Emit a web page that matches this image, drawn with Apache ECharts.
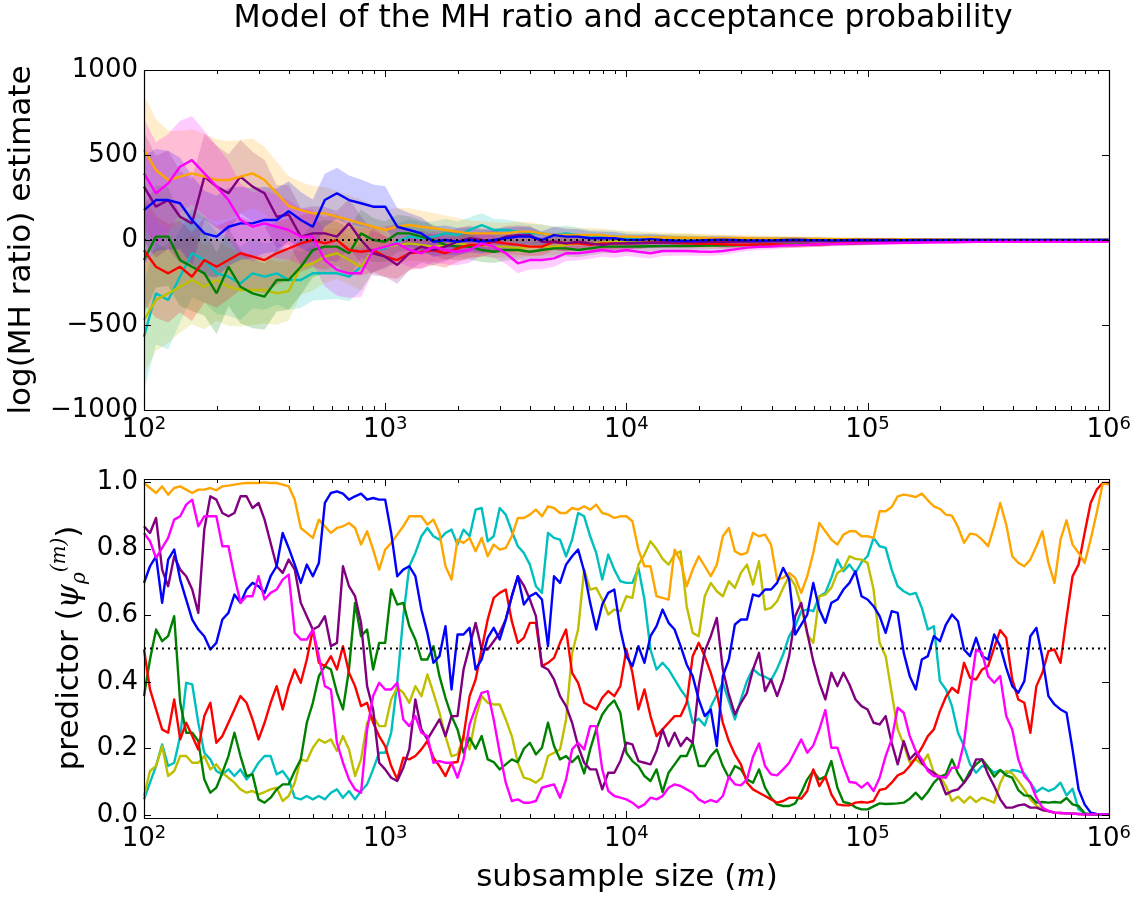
<!DOCTYPE html>
<html><head><meta charset="utf-8">
<script src="https://cdn.jsdelivr.net/npm/echarts@6/dist/echarts.min.js"></script>
<style>html,body{margin:0;padding:0;background:#fff}#c{width:1134px;height:898px}</style>
</head><body><div id="c"></div>
<script>
// ---------- DATA ----------
// x positions (subsample size m) for the top panel
const topSubsampleSizes = [100,112,126,141,158,178,200,224,251,282,316,355,398,447,501,562,631,708,794,891,
 1000,1122,1259,1413,1585,1778,1995,2239,2512,2818,3162,3548,3981,4467,5012,5623,6310,7079,7943,8913,
 10000,11220,12589,14125,15849,17783,19953,22387,25119,28184,31623,35481,39811,44668,50119,56234,63096,70795,79433,89125,
 100000,112202,125893,141254,158489,177828,199526,223872,251189,281838,316228,354813,398107,446684,501187,562341,630957,707946,794328,891251,1000000];
// x positions (subsample size m) for the bottom panel
const subsampleSizes = [
 100,105.9,112.2,118.9,125.9,133.4,141.3,149.6,158.5,167.9,177.8,188.4,199.5,211.3,223.9,237.1,251.2,266.1,281.8,298.5,316.2,335,354.8,375.8,398.1,421.7,446.7,473.2,501.2,530.9,562.3,595.7,631,668.3,707.9,749.9,794.3,841.4,891.3,944.1,
 1000,1059,1122,1189,1259,1334,1413,1496,1585,1679,1778,1884,1995,2113,2239,2371,2512,2661,2818,2985,3162,3350,3548,3758,3981,4217,4467,4732,5012,5309,5623,5957,6310,6683,7079,7499,7943,8414,8913,9441,
 10000,10593,11220,11885,12589,13335,14125,14962,15849,16788,17783,18836,19953,21135,22387,23714,25119,26607,28184,29854,31623,33497,35481,37584,39811,42170,44668,47315,50119,53088,56234,59566,63096,66834,70795,74989,79433,84140,89125,94406,
 100000,105925,112202,118850,125893,133352,141254,149624,158489,167880,177828,188365,199526,211349,223872,237137,251189,266073,281838,298538,316228,334965,354813,375837,398107,421697,446684,473151,501187,530884,562341,595662,630957,668344,707946,749894,794328,841395,891251,944061,
 1000000];

// top panel: log(MH ratio) estimates
const mhOrange = [530,412,353,373,392,373,353,353,373,392,353,275,200,
 176,157,157,137,118,98,78,59,78,88,78,69,59,49,39,39,39,39,49,49,39,29,29,29,29,29,20,20,18,16,15,14,
 12,12,10,10,10,9,8,8,7,7,6,6,5,5,5,4,4,4,3,3,3,3,2,2,2,2,1,1,1,1,1,0,0,0,0,0];
const mhBlue = [176,235,235,216,118,39,20,78,98,98,118,118,170,
 118,78,235,275,235,216,196,196,78,59,39,-10,0,-10,0,-10,0,10,20,20,0,29,20,20,10,10,10,0,0,5,0,-3,
 -5,-3,0,2,0,-2,-3,-2,0,2,0,-1,-2,-1,0,1,0,0,-1,0,0,0,0,0,0,0,0,0,0,0,0,0,0,0,0,0];
const mhPurple = [314,196,235,137,98,373,314,275,373,314,275,137,150,
 20,39,39,20,98,0,-78,-98,-147,-78,-39,-59,-39,-10,10,0,-10,20,29,29,-10,-10,-20,-10,-20,-29,-20,-20,-18,-16,-15,-14,
 -12,-12,-10,-10,-10,-9,-9,-8,-8,-7,-7,-6,-6,-5,-5,-5,-4,-4,-4,-3,-3,-3,-3,-2,-2,-2,-2,-2,-1,-1,-1,-1,-1,-1,0,0];
const mhMagenta = [392,275,333,431,470,392,314,235,118,78,98,78,59,
 20,20,-118,-176,-196,-196,-59,-39,-20,-59,-78,-39,-59,-69,-59,-20,-39,-78,-137,-118,-118,-108,-78,-78,-69,-59,-69,-59,-69,-78,-65,-65,
 -65,-68,-70,-65,-55,-45,-40,-38,-33,-30,-28,-26,-24,-22,-20,-20,-19,-18,-17,-16,-15,-14,-13,-12,-11,-11,-10,-10,-10,-10,-10,-10,-10,-10,-10,-10];
const mhGreen = [-118,20,20,-118,-157,-196,-314,-157,-275,-314,-333,-235,-235,
 -157,-59,-39,-39,-78,39,0,-10,39,39,20,0,-29,-39,-39,-59,-69,-59,-59,-69,-59,-49,-49,-59,-49,-39,-39,-39,-38,-37,-36,-35,
 -35,-34,-33,-32,-31,-30,-29,-28,-27,-26,-25,-24,-23,-22,-20,-18,-16,-14,-12,-10,-9,-8,-7,-6,-5,-4,-4,-3,-3,-2,-2,-2,-1,-1,-1,-1];
const mhRed = [-60,-157,-196,-157,-216,-118,-157,-118,-78,-98,-118,-78,-50,
 -20,0,-20,0,-59,-69,-59,-98,-118,-78,-69,-59,-78,-49,-29,-29,-10,-20,-29,-39,-39,-10,-20,-20,-29,-20,-20,-20,-18,-15,-15,-18,
 -20,-22,-22,-25,-28,-28,-26,-25,-28,-30,-28,-25,-22,-20,-18,-16,-14,-12,-10,-9,-8,-7,-6,-5,-4,-4,-3,-3,-2,-2,-2,-1,-1,-1,-1,0];
const mhCyan = [-569,-314,-353,-216,-78,-118,-196,-216,-255,-196,-216,-196,-235,
 -235,-196,-196,-196,-216,-157,-59,-49,-10,20,10,20,39,29,59,88,59,59,49,39,39,29,39,29,20,20,20,10,10,8,6,5,
 4,0,-5,-8,-6,-4,-3,-2,-2,-1,0,0,0,0,0,0,0,0,0,0,0,0,0,0,0,0,0,0,0,0,0,0,0,0,0,0];
const mhYellow = [-470,-353,-314,-275,-235,-275,-235,-275,-294,-294,-294,-314,-300,
 -157,-137,-98,-78,-118,-157,-59,-39,-29,-20,-29,-39,-29,-20,-29,-29,-39,-39,-49,-39,-39,-39,-29,-20,-20,-15,-10,-10,-5,0,5,10,
 12,10,8,6,5,4,3,3,2,2,1,1,1,0,0,0,0,0,0,0,0,0,0,0,0,0,0,0,0,0,0,0,0,0,0,0];
const bandHalfWidth = [320,300,290,270,260,250,240,230,215,205,195,185,175,
 165,160,155,150,145,140,130,120,110,100,95,90,85,80,75,70,66,62,58,55,52,49,46,43,41,39,37,35,33,31,29,27,
 26,24,23,22,21,20,19,18,17,16,15,14,13,12,12,11,10,10,9,9,8,8,7,7,6,6,5,5,4,4,3,3,2,2,2,1];

// bottom panel: predictor values (one row per decade)
const accOrange = [
 0.997,0.982,0.967,0.987,0.962,0.982,0.987,0.977,0.967,0.977,0.977,0.982,0.975,0.987,0.989,0.992,0.995,0.997,0.997,0.997,0.999,0.997,0.997,0.992,0.987,0.947,0.862,0.847,0.832,0.887,0.867,0.847,0.862,0.867,0.877,0.862,0.812,0.852,0.797,0.737,
 0.797,0.817,0.842,0.867,0.897,0.897,0.897,0.872,0.887,0.847,0.747,0.707,0.827,0.817,0.832,0.792,0.832,0.777,0.812,0.797,0.802,0.837,0.892,0.892,0.902,0.917,0.897,0.927,0.922,0.907,0.907,0.922,0.917,0.927,0.917,0.932,0.907,0.902,0.892,0.897,
 0.897,0.882,0.797,0.747,0.747,0.657,0.652,0.647,0.797,0.762,0.687,0.737,0.777,0.747,0.717,0.752,0.837,0.862,0.792,0.782,0.787,0.847,0.837,0.842,0.812,0.707,0.712,0.727,0.712,0.667,0.717,0.787,0.877,0.852,0.827,0.812,0.842,0.852,0.852,0.837,
 0.837,0.832,0.912,0.912,0.925,0.957,0.962,0.959,0.955,0.965,0.945,0.927,0.919,0.902,0.899,0.865,0.817,0.845,0.842,0.827,0.807,0.867,0.937,0.872,0.777,0.757,0.747,0.767,0.807,0.852,0.757,0.697,0.827,0.885,0.812,0.787,0.757,0.827,0.907,0.995,
 0.992];
const accBlue = [
 0.697,0.747,0.777,0.637,0.767,0.797,0.707,0.647,0.587,0.557,0.537,0.497,0.517,0.587,0.607,0.662,0.637,0.677,0.697,0.687,0.667,0.717,0.747,0.847,0.802,0.752,0.697,0.752,0.717,0.757,0.937,0.967,0.972,0.965,0.947,0.957,0.965,0.947,0.952,0.947,
 0.947,0.847,0.717,0.737,0.747,0.717,0.617,0.547,0.457,0.477,0.567,0.377,0.542,0.542,0.562,0.437,0.467,0.532,0.562,0.527,0.587,0.657,0.717,0.632,0.657,0.667,0.647,0.507,0.717,0.697,0.752,0.777,0.797,0.732,0.637,0.557,0.632,0.667,0.677,0.557,
 0.477,0.447,0.507,0.457,0.537,0.567,0.617,0.577,0.557,0.507,0.452,0.417,0.347,0.297,0.317,0.207,0.417,0.467,0.572,0.587,0.587,0.662,0.657,0.677,0.677,0.697,0.742,0.707,0.542,0.572,0.602,0.697,0.617,0.577,0.637,0.647,0.677,0.697,0.732,0.657,
 0.647,0.627,0.597,0.547,0.612,0.607,0.487,0.417,0.377,0.467,0.477,0.537,0.522,0.572,0.602,0.582,0.497,0.477,0.532,0.477,0.467,0.542,0.507,0.442,0.387,0.367,0.402,0.537,0.562,0.472,0.357,0.332,0.317,0.307,0.197,0.077,0.032,0.007,0.003,0.002,
 0.002];
const accPurple = [
 0.867,0.847,0.892,0.737,0.687,0.777,0.737,0.717,0.677,0.607,0.857,0.957,0.947,0.907,0.897,0.907,0.957,0.957,0.922,0.937,0.887,0.817,0.747,0.727,0.767,0.737,0.637,0.597,0.557,0.567,0.597,0.507,0.517,0.747,0.687,0.657,0.577,0.387,0.317,0.157,
 0.137,0.112,0.102,0.142,0.197,0.347,0.257,0.227,0.257,0.287,0.237,0.297,0.297,0.437,0.507,0.577,0.497,0.497,0.522,0.547,0.587,0.657,0.717,0.689,0.647,0.597,0.447,0.437,0.407,0.357,0.327,0.277,0.207,0.157,0.137,0.137,0.077,0.127,0.127,0.162,
 0.217,0.212,0.162,0.157,0.152,0.192,0.257,0.207,0.247,0.207,0.232,0.217,0.387,0.492,0.537,0.592,0.437,0.362,0.302,0.337,0.367,0.437,0.487,0.372,0.407,0.357,0.407,0.477,0.597,0.637,0.547,0.462,0.397,0.347,0.427,0.387,0.427,0.392,0.347,0.327,
 0.317,0.277,0.272,0.297,0.217,0.152,0.222,0.167,0.187,0.157,0.137,0.127,0.109,0.062,0.072,0.077,0.097,0.122,0.167,0.167,0.122,0.087,0.047,0.022,0.022,0.029,0.032,0.022,0.022,0.015,0.012,0.007,0.006,0.005,0.004,0.003,0.002,0.002,0.002,0.002,
 0.002];
const accMagenta = [
 0.847,0.822,0.772,0.802,0.832,0.887,0.897,0.932,0.947,0.867,0.897,0.897,0.897,0.807,0.807,0.717,0.637,0.657,0.657,0.717,0.647,0.667,0.677,0.707,0.722,0.547,0.527,0.527,0.557,0.477,0.387,0.377,0.217,0.157,0.107,0.077,0.067,0.257,0.357,0.397,
 0.377,0.377,0.397,0.287,0.267,0.297,0.247,0.237,0.157,0.162,0.157,0.157,0.112,0.167,0.272,0.322,0.367,0.372,0.287,0.187,0.097,0.042,0.047,0.037,0.037,0.042,0.082,0.087,0.092,0.052,0.107,0.197,0.217,0.197,0.267,0.267,0.137,0.072,0.057,0.052,
 0.047,0.037,0.022,0.032,0.052,0.047,0.057,0.082,0.092,0.087,0.077,0.067,0.047,0.037,0.045,0.039,0.057,0.115,0.092,0.089,0.107,0.175,0.215,0.147,0.122,0.119,0.137,0.157,0.192,0.227,0.187,0.209,0.257,0.315,0.202,0.202,0.147,0.099,0.097,0.082,
 0.097,0.072,0.112,0.177,0.227,0.322,0.307,0.237,0.192,0.167,0.132,0.117,0.115,0.112,0.142,0.142,0.217,0.367,0.497,0.487,0.417,0.397,0.417,0.297,0.257,0.167,0.117,0.097,0.052,0.022,0.012,0.007,0.006,0.005,0.004,0.003,0.002,0.002,0.002,0.002,
 0.002];
const accGreen = [
 0.357,0.467,0.557,0.522,0.537,0.597,0.337,0.247,0.247,0.222,0.107,0.067,0.082,0.127,0.177,0.247,0.177,0.117,0.122,0.047,0.037,0.052,0.077,0.092,0.092,0.132,0.167,0.277,0.337,0.417,0.447,0.437,0.367,0.317,0.437,0.637,0.537,0.557,0.437,0.517,
 0.517,0.677,0.632,0.637,0.567,0.527,0.467,0.467,0.507,0.417,0.352,0.297,0.257,0.187,0.232,0.199,0.237,0.167,0.159,0.137,0.152,0.167,0.159,0.199,0.217,0.182,0.202,0.277,0.207,0.167,0.177,0.159,0.177,0.125,0.197,0.257,0.302,0.327,0.344,0.307,
 0.187,0.162,0.147,0.117,0.102,0.137,0.069,0.127,0.152,0.177,0.177,0.217,0.147,0.147,0.177,0.197,0.147,0.112,0.147,0.137,0.107,0.097,0.137,0.082,0.052,0.032,0.027,0.027,0.035,0.067,0.107,0.132,0.107,0.115,0.162,0.082,0.039,0.035,0.023,0.017,
 0.017,0.026,0.035,0.033,0.034,0.035,0.037,0.049,0.067,0.047,0.069,0.097,0.115,0.122,0.167,0.125,0.097,0.132,0.152,0.167,0.144,0.115,0.135,0.119,0.112,0.075,0.059,0.057,0.037,0.039,0.037,0.039,0.037,0.051,0.032,0.027,0.005,0.002,0.002,0.002,
 0.002];
const accRed = [
 0.497,0.377,0.317,0.257,0.247,0.347,0.227,0.277,0.237,0.197,0.297,0.337,0.217,0.237,0.277,0.317,0.357,0.337,0.287,0.227,0.277,0.337,0.387,0.317,0.387,0.437,0.397,0.467,0.557,0.457,0.447,0.477,0.437,0.507,0.427,0.387,0.327,0.337,0.277,0.237,
 0.207,0.147,0.107,0.172,0.167,0.177,0.197,0.222,0.172,0.147,0.117,0.157,0.159,0.237,0.357,0.407,0.497,0.587,0.652,0.667,0.677,0.582,0.517,0.532,0.577,0.577,0.447,0.457,0.472,0.517,0.557,0.427,0.397,0.337,0.327,0.317,0.352,0.372,0.357,0.387,
 0.497,0.427,0.317,0.377,0.297,0.237,0.257,0.277,0.297,0.297,0.337,0.477,0.517,0.477,0.427,0.367,0.277,0.222,0.182,0.152,0.097,0.077,0.067,0.057,0.047,0.037,0.042,0.052,0.052,0.049,0.072,0.137,0.087,0.115,0.062,0.032,0.029,0.029,0.037,0.039,
 0.037,0.042,0.075,0.079,0.097,0.119,0.127,0.147,0.172,0.202,0.237,0.257,0.312,0.355,0.382,0.367,0.457,0.412,0.407,0.437,0.447,0.502,0.555,0.532,0.407,0.347,0.337,0.247,0.387,0.427,0.492,0.497,0.457,0.592,0.717,0.752,0.847,0.937,0.977,0.997,
 0.997];
const accCyan = [
 0.047,0.097,0.147,0.212,0.147,0.157,0.237,0.397,0.392,0.277,0.187,0.167,0.132,0.122,0.137,0.117,0.137,0.107,0.127,0.157,0.177,0.177,0.122,0.132,0.107,0.052,0.047,0.057,0.047,0.057,0.047,0.067,0.077,0.052,0.072,0.047,0.072,0.092,0.137,0.187,
 0.187,0.247,0.397,0.597,0.747,0.787,0.837,0.862,0.837,0.827,0.847,0.857,0.812,0.857,0.837,0.917,0.922,0.822,0.837,0.922,0.902,0.852,0.807,0.787,0.752,0.687,0.667,0.847,0.832,0.827,0.777,0.827,0.907,0.897,0.837,0.787,0.707,0.782,0.737,0.702,
 0.697,0.697,0.742,0.647,0.497,0.437,0.457,0.437,0.407,0.377,0.352,0.277,0.289,0.269,0.325,0.361,0.397,0.342,0.287,0.347,0.402,0.439,0.422,0.415,0.405,0.439,0.482,0.537,0.567,0.612,0.617,0.612,0.657,0.667,0.712,0.767,0.732,0.752,0.727,0.759,
 0.777,0.832,0.807,0.802,0.737,0.687,0.672,0.662,0.667,0.622,0.557,0.567,0.402,0.377,0.327,0.247,0.207,0.152,0.127,0.147,0.142,0.127,0.135,0.125,0.135,0.132,0.125,0.097,0.069,0.082,0.072,0.079,0.097,0.059,0.079,0.017,0.005,0.002,0.002,0.002,
 0.002];
const accYellow = [
 0.057,0.132,0.147,0.207,0.117,0.132,0.177,0.177,0.157,0.157,0.177,0.137,0.152,0.127,0.112,0.097,0.077,0.067,0.072,0.062,0.069,0.077,0.082,0.042,0.057,0.097,0.167,0.162,0.202,0.227,0.217,0.227,0.192,0.237,0.197,0.117,0.167,0.277,0.297,0.267,
 0.267,0.347,0.382,0.367,0.337,0.387,0.357,0.422,0.367,0.307,0.237,0.177,0.182,0.237,0.197,0.292,0.357,0.337,0.332,0.332,0.287,0.237,0.157,0.112,0.107,0.097,0.112,0.177,0.187,0.197,0.287,0.487,0.557,0.737,0.677,0.682,0.647,0.602,0.617,0.612,
 0.657,0.652,0.752,0.782,0.822,0.799,0.769,0.752,0.782,0.792,0.627,0.547,0.537,0.657,0.697,0.672,0.657,0.702,0.682,0.727,0.752,0.692,0.762,0.617,0.622,0.642,0.682,0.717,0.689,0.627,0.542,0.517,0.657,0.662,0.682,0.727,0.739,0.777,0.769,0.767,
 0.757,0.677,0.517,0.477,0.367,0.257,0.212,0.157,0.167,0.152,0.182,0.127,0.117,0.087,0.042,0.055,0.037,0.055,0.039,0.052,0.045,0.037,0.095,0.132,0.125,0.102,0.077,0.047,0.029,0.015,0.011,0.007,0.006,0.005,0.004,0.003,0.002,0.002,0.002,0.002,
 0.002];

const xDecades = [100, 1000, 10000, 100000, 1000000];
const yTicksTop = [-1000, -500, 0, 500, 1000];
const yTicksBottom = [0, 0.2, 0.4, 0.6, 0.8, 1.0];
const refLevelTop = 0;
const refLevelBottom = 0.5;

// ---------- CHART ----------
const FONT = 'DejaVu Sans';
const colorOf = {orange:'#ffa500', blue:'#0000ff', purple:'#800080', magenta:'#ff00ff',
  green:'#008000', red:'#ff0000', cyan:'#00bfbf', yellow:'#bfbf00'};
const bandFill = {orange:'rgba(255,165,0,0.2)', blue:'rgba(0,0,255,0.2)', purple:'rgba(128,0,128,0.2)',
  magenta:'rgba(255,0,255,0.2)', green:'rgba(0,128,0,0.2)', red:'rgba(255,0,0,0.2)',
  cyan:'rgba(0,191,191,0.2)', yellow:'rgba(191,191,0,0.2)'};
const topData = {orange:mhOrange, blue:mhBlue, purple:mhPurple, magenta:mhMagenta, green:mhGreen, red:mhRed, cyan:mhCyan, yellow:mhYellow};
const botData = {orange:accOrange, blue:accBlue, purple:accPurple, magenta:accMagenta, green:accGreen, red:accRed, cyan:accCyan, yellow:accYellow};
const order = ['cyan','yellow','green','red','purple','orange','blue','magenta'];

const series = [];
order.forEach(k => {
  const v = topData[k];
  const rows = topSubsampleSizes.map((x,i)=>[x, v[i]-bandHalfWidth[i], v[i]+bandHalfWidth[i]]);
  series.push({type:'custom', xAxisIndex:0, yAxisIndex:0, silent:true, z:1, clip:true,
    encode:{x:0, y:[1,2]}, data: rows,
    renderItem: function(params, api){
      if (params.dataIndex !== 0) return null;
      const pts = [];
      for (let i = 0; i < rows.length; i++) pts.push(api.coord([rows[i][0], rows[i][1]]));
      for (let i = rows.length-1; i >= 0; i--) pts.push(api.coord([rows[i][0], rows[i][2]]));
      return {type:'polygon', shape:{points:pts}, style:{fill:bandFill[k], stroke:null}};
    }});
});
order.forEach(k => {
  series.push({type:'line', xAxisIndex:0, yAxisIndex:0, symbol:'none', z:3,
    lineStyle:{color:colorOf[k], width:2.4}, itemStyle:{color:colorOf[k]},
    data: topSubsampleSizes.map((x,i)=>[x, topData[k][i]])});
  series.push({type:'line', xAxisIndex:1, yAxisIndex:1, symbol:'none', z:3, clip:false,
    lineStyle:{color:colorOf[k], width:2.4, join:'round'}, itemStyle:{color:colorOf[k]},
    data: subsampleSizes.map((x,i)=>[x, botData[k][i]])});
});
series.push({type:'line', xAxisIndex:0, yAxisIndex:0, symbol:'none', z:5,
  lineStyle:{color:'#000', width:2, type:[2,4]},
  data:[[topSubsampleSizes[0], refLevelTop],[topSubsampleSizes[topSubsampleSizes.length-1], refLevelTop]]});
series.push({type:'line', xAxisIndex:1, yAxisIndex:1, symbol:'none', z:5,
  lineStyle:{color:'#000', width:2, type:[2,4]},
  data:[[subsampleSizes[0], refLevelBottom],[subsampleSizes[subsampleSizes.length-1], refLevelBottom]]});

const xLabelRich = {
  b:{fontFamily:FONT, fontSize:26, color:'#000', lineHeight:30},
  s:{fontFamily:FONT, fontSize:18, color:'#000', lineHeight:18, verticalAlign:'top'}
};
function xFmt(v){ const e = Math.round(Math.log10(v)); return '{b|10}{s|' + e + '}'; }
function mkX(gi, margin){
  return {type:'log', logBase:10, gridIndex:gi, min:100, max:1000000,
    axisLine:{show:false}, axisTick:{show:false}, splitLine:{show:false}, minorTick:{show:false},
    axisLabel:{formatter:xFmt, rich:xLabelRich, margin:margin, color:'#000'}};
}

const option = {
  animation:false,
  backgroundColor:'#fff',
  grid:[
    {left:144, top:70, width:967, height:340},
    {left:144, top:482, width:967, height:333}
  ],
  xAxis:[ mkX(0, 5), mkX(1, 9) ],
  yAxis:[
    {type:'value', gridIndex:0, min:-1000, max:1000, interval:500,
     axisLine:{show:false}, axisTick:{show:false}, splitLine:{show:false},
     axisLabel:{color:'#000', fontFamily:FONT, fontSize:26, margin:6,
       formatter:v => v < 0 ? '\u2212' + (-v) : String(v)}},
    {type:'value', gridIndex:1, min:0, max:1, interval:0.2,
     axisLine:{show:false}, axisTick:{show:false}, splitLine:{show:false},
     axisLabel:{color:'#000', fontFamily:FONT, fontSize:26, margin:6,
       formatter:v => v.toFixed(1)}}
  ],
  series:series
};

const chart = echarts.init(document.getElementById('c'), null, {renderer:'canvas'});
chart.setOption(option);

// frame, ticks and texts computed through the axes' scales
const g = [];
function px(ai, v){ return chart.convertToPixel({xAxisIndex:ai}, v); }
function py(ai, v){ return chart.convertToPixel({yAxisIndex:ai}, v); }
const panels = [
  {ai:0, yLo:-1000, yHi:1000, yt:yTicksTop},
  {ai:1, yLo:-0.01, yHi:1.01, yt:yTicksBottom}
];
panels.forEach(p => {
  const L = Math.round(px(p.ai, 100)), R = Math.round(px(p.ai, 1000000));
  const T = Math.round(py(p.ai, p.yHi)), B = Math.round(py(p.ai, p.yLo));
  g.push({type:'rect', shape:{x:L+0.5, y:T+0.5, width:R-L, height:B-T}, style:{fill:null, stroke:'#000', lineWidth:1.2}, z:100});
  xDecades.forEach((d, di) => {
    const ks = di < xDecades.length-1 ? [1,2,3,4,5,6,7,8,9] : [1];
    ks.forEach(k => {
      const x = Math.round(px(p.ai, k*d)) + 0.5;
      const len = k === 1 ? 7 : 4;
      g.push({type:'line', shape:{x1:x, y1:B, x2:x, y2:B-len}, style:{stroke:'#000', lineWidth:1}, z:100});
      g.push({type:'line', shape:{x1:x, y1:T, x2:x, y2:T+len}, style:{stroke:'#000', lineWidth:1}, z:100});
    });
  });
  p.yt.forEach(v => {
    const y = Math.round(py(p.ai, v)) + 0.5;
    g.push({type:'line', shape:{x1:L, y1:y, x2:L+7, y2:y}, style:{stroke:'#000', lineWidth:1}, z:100});
    g.push({type:'line', shape:{x1:R, y1:y, x2:R-7, y2:y}, style:{stroke:'#000', lineWidth:1}, z:100});
  });
});
g.push({type:'text', x:623, y:19, z:100, style:{text:'Model of the MH ratio and acceptance probability',
  font:'31.5px "DejaVu Sans"', fill:'#000', textAlign:'center', textVerticalAlign:'middle'}});
g.push({type:'text', x:22, y:240, rotation:Math.PI/2, z:100, style:{text:'log(MH ratio) estimate',
  font:'31px "DejaVu Sans"', fill:'#000', textAlign:'center', textVerticalAlign:'middle'}});
g.push({type:'text', x:70, y:648, rotation:Math.PI/2, z:100, style:{
  text:'{n|predictor (}{m|ψ}{sub|ρ}{sup|(m)}{n|)}',
  fill:'#000', textAlign:'center', textVerticalAlign:'middle',
  rich:{
    n:{fontFamily:FONT, fontSize:31, lineHeight:40, fill:'#000'},
    m:{fontFamily:'DejaVu Serif', fontStyle:'italic', fontSize:31, lineHeight:40, fill:'#000'},
    sub:{fontFamily:'DejaVu Serif', fontStyle:'italic', fontSize:20, lineHeight:16, verticalAlign:'bottom', fill:'#000'},
    sup:{fontFamily:'DejaVu Serif', fontStyle:'italic', fontSize:20, lineHeight:16, verticalAlign:'top', fill:'#000'}
  }}});
g.push({type:'text', x:627, y:878, z:100, style:{
  text:'{n|subsample size (}{m|m}{n|)}',
  fill:'#000', textAlign:'center', textVerticalAlign:'middle',
  rich:{
    n:{fontFamily:FONT, fontSize:31, fill:'#000'},
    m:{fontFamily:'DejaVu Serif', fontStyle:'italic', fontSize:31, fill:'#000'}
  }}});
chart.setOption({graphic:g});
</script>
</body></html>
